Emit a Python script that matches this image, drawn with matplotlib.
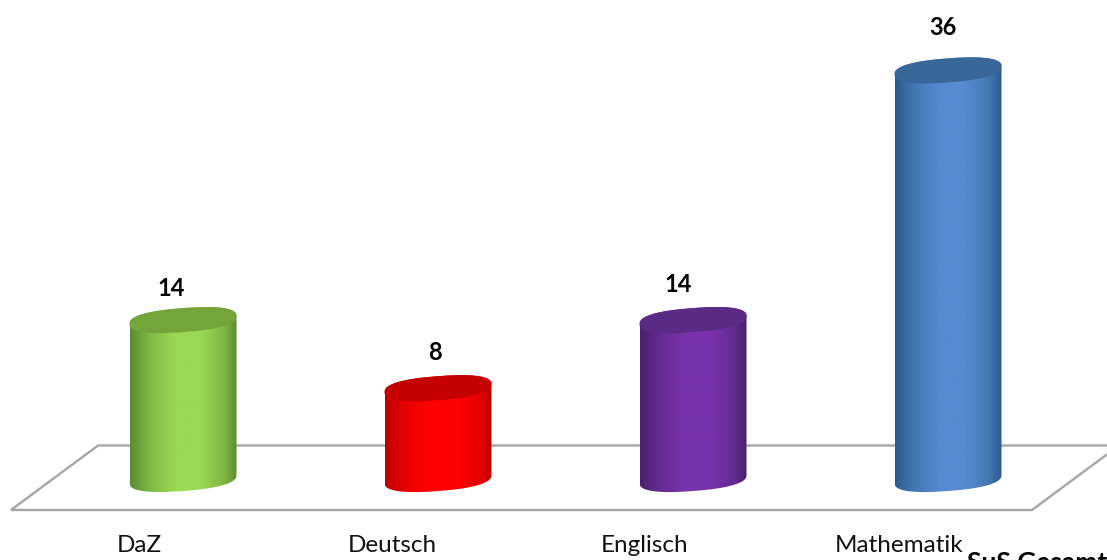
import numpy as np
import matplotlib
matplotlib.use("Agg")
import matplotlib.pyplot as plt
from matplotlib.colors import LinearSegmentedColormap
from matplotlib.patches import Polygon
from matplotlib.transforms import Affine2D

categories = ["DaZ", "Deutsch", "Englisch", "Mathematik"]
values = [14, 8, 14, 36]
axis_title = "SuS Gesamt"

edge_colors = ["#5d8a30", "#bb0000", "#482069", "#2f5a8f"]
mid_colors = ["#7fb845", "#e80000", "#642a92", "#4476b2"]
center_colors = ["#9ad955", "#ff0000", "#7832ab", "#558bcf"]
top_colors = ["#74a53a", "#c40000", "#5b2a84", "#3a6799"]
label_offsets = [(-12, 32), (-3, 36), (-15, 36), (-5, 43)]
cat_offsets = [-44, -46, -48, -49]

W, H = 1107, 560
PX_X = 255.0      # pixels per category step
PX_Y = 11.35      # pixels per value unit
X0, Y0 = 183.0, 479.0
HALF_W, TILT, MINOR = 53.5, 4.0, 12.0
ROUND = 0.82      # superellipse exponent: the caps are fuller than true ellipses

plt.rcParams["font.family"] = ["Lato", "DejaVu Sans"]
fig = plt.figure(figsize=(W / 100, H / 100), dpi=100)
ax = fig.add_axes([0, 0, 1, 1])
xlim = (-X0 / PX_X, (W - X0) / PX_X)
ylim = ((Y0 - H) / PX_Y, Y0 / PX_Y)
ax.set_axis_off()

px = Affine2D().scale(1 / W, -1 / H).translate(0, 1) + ax.transAxes
floor_x = [1119, 98, 11, 1032, 1119]
floor_y = [445.5, 445.5, 510, 510, 445.5]
ax.plot(floor_x, floor_y, transform=px, color="#a6a6a6", lw=1.7, zorder=1,
        solid_joinstyle="miter")


def ellipse(i, v, t):
    c = np.sign(np.cos(t)) * np.abs(np.cos(t)) ** ROUND
    s = np.sign(np.sin(t)) * np.abs(np.sin(t)) ** ROUND
    return (i + HALF_W * c / PX_X,
            v + (TILT * c + MINOR * s) / PX_Y)


for i, v in enumerate(values):
    cmap = LinearSegmentedColormap.from_list(
        "c", [(0, edge_colors[i]), (0.18, mid_colors[i]), (0.42, center_colors[i]),
              (0.66, center_colors[i]), (0.88, mid_colors[i]), (1, edge_colors[i])])
    grad = np.linspace(0, 1, 256).reshape(1, -1)
    xb, yb = ellipse(i, 0, np.linspace(2 * np.pi, np.pi, 80))
    xt, yt = ellipse(i, v, np.linspace(np.pi, 0, 80))
    verts = np.column_stack([np.r_[xt, xb], np.r_[yt, yb]])
    im = ax.imshow(grad, cmap=cmap, aspect="auto", zorder=2,
                   extent=(i - HALF_W / PX_X, i + HALF_W / PX_X,
                           -20 / PX_Y, v + 20 / PX_Y))
    clip = Polygon(verts, closed=True, transform=ax.transData, fc="none", ec="none")
    ax.add_patch(clip)
    im.set_clip_path(clip)
    xe, ye = ellipse(i, v, np.linspace(0, 2 * np.pi, 160))
    ax.add_patch(Polygon(np.column_stack([xe, ye]), closed=True, fc=top_colors[i],
                         ec="none", zorder=3))
    ax.annotate(str(v), (i, v), xytext=label_offsets[i], textcoords="offset pixels",
                ha="center", va="center", fontsize=17, fontweight="bold",
                color="black", zorder=4)
    ax.annotate(categories[i], (i, 0), xytext=(cat_offsets[i], -67),
                textcoords="offset pixels", ha="center",
                va="center", fontsize=17.5, color="#111111", zorder=4)

ax.text(967, 571, axis_title, transform=px, ha="left", va="baseline",
        fontsize=19, fontweight="bold", color="black", zorder=4)
ax.set_xlim(xlim)
ax.set_ylim(ylim)
fig.savefig("out.png", dpi=100, facecolor="white")
